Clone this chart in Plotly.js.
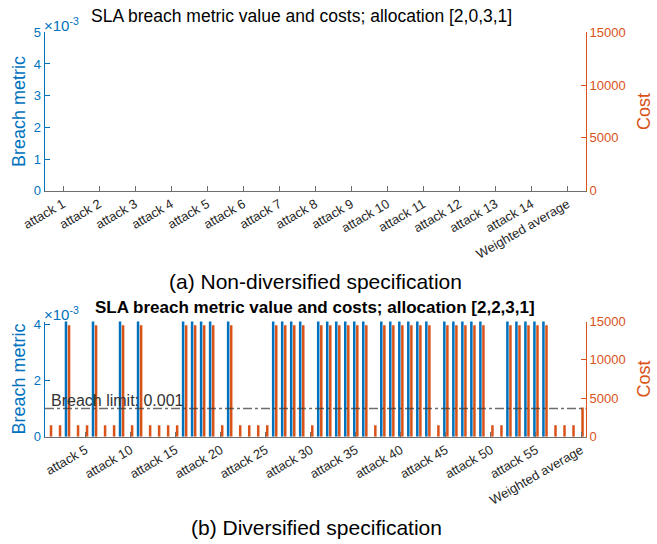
<!DOCTYPE html>
<html>
<head>
<meta charset="utf-8">
<script src="https://cdn.plot.ly/plotly-3.0.1.min.js"></script>
<style>html,body{margin:0;padding:0;background:#fff;}#plot{width:657px;height:544px;}</style>
</head>
<body>
<div id="plot"></div>
<script>
// ---- Top chart (a): allocation [2,0,3,1] ----
var catsA = ["attack 1","attack 2","attack 3","attack 4","attack 5","attack 6","attack 7",
             "attack 8","attack 9","attack 10","attack 11","attack 12","attack 13","attack 14",
             "Weighted average"];
var breachA = [0,0,0,0,0,0,0,0,0,0,0,0,0,0,0];
var costA   = [0,0,0,0,0,0,0,0,0,0,0,0,0,0,0];

// ---- Bottom chart (b): allocation [2,2,3,1] ----
var breachB = [0,0,0.005,0,0,0.005,0,0,0.005,0,
               0.005,0,0,0,0,0.005,0.005,0.005,0.005,0,
               0.005,0,0,0,0,0.005,0.005,0.005,0.005,0,
               0.005,0.005,0.005,0.005,0.005,0.005,0,0.005,0.005,0.005,
               0.005,0.005,0.005,0,0.005,0.005,0.005,0.005,0.005,0,
               0,0.005,0.005,0.005,0.005,0.005,0,0,0,0];
var costB = [1500,1500,14500,1500,1500,14500,1500,1500,14500,1500,
             14500,1500,1500,1500,1500,14500,14500,14500,14500,1500,
             14500,1500,1500,1500,1500,14500,14500,14500,14500,1500,
             14500,14500,14500,14500,14500,14500,1500,14500,14500,14500,
             14500,14500,14500,1500,14500,14500,14500,14500,14500,1500,
             1500,14500,14500,14500,14500,14500,1500,1500,1500,3800];
var tickPosB = [5,10,15,20,25,30,35,40,45,50,55,60];
var tickTextB = ["attack 5","attack 10","attack 15","attack 20","attack 25","attack 30",
                 "attack 35","attack 40","attack 45","attack 50","attack 55","Weighted average"];
var breachLimit = 0.001;

var posA = catsA.map(function(_, i){ return i + 1; });
var posB = costB.map(function(_, i){ return i + 1; });

var BLUE = "#0072BD", ORANGE = "#D95319", GREY = "#6e6e6e", TXT = "#262626";
var FONT = "Liberation Sans, Arial, Helvetica, sans-serif";

var traces = [
  {type:"bar", x:posA, y:breachA, xaxis:"x", yaxis:"y", marker:{color:BLUE}, width:0.28, offset:-0.31, hoverinfo:"skip"},
  {type:"bar", x:posA, y:costA, xaxis:"x", yaxis:"y2", marker:{color:ORANGE}, width:0.28, offset:0.03, hoverinfo:"skip"},
  {type:"bar", x:posB, y:breachB, xaxis:"x2", yaxis:"y3", marker:{color:BLUE}, width:0.28, offset:-0.31, hoverinfo:"skip"},
  {type:"bar", x:posB, y:costB, xaxis:"x2", yaxis:"y4", marker:{color:ORANGE}, width:0.28, offset:0.03, hoverinfo:"skip"}
];

var xdom = [45/657, 585.5/657];
var domA = [1 - 190.7/544, 1 - 32.3/544];
var domB = [1 - 436.7/544, 1 - 321.5/544];

function xax(extra){
  var a = {domain:xdom, showgrid:false, zeroline:false, showline:true, linecolor:GREY, linewidth:1,
           ticks:"inside", ticklen:5, tickcolor:GREY, tickangle:-30,
           tickfont:{family:FONT, size:13, color:TXT}, fixedrange:true};
  for (var k in extra) a[k] = extra[k];
  return a;
}
function yax(color, side, extra){
  var a = {showgrid:false, zeroline:false, showline:true, linecolor:color, linewidth:1.5,
           ticks:"inside", ticklen:5, tickcolor:color, side:side,
           tickfont:{family:FONT, size:13, color:color}, fixedrange:true};
  for (var k in extra) a[k] = extra[k];
  return a;
}

var layout = {
  width:657, height:544,
  margin:{l:0, r:0, t:0, b:0},
  paper_bgcolor:"#fff", plot_bgcolor:"#fff",
  showlegend:false,
  barmode:"overlay",
  font:{family:FONT, color:TXT},
  xaxis: xax({anchor:"y", range:[0.5,15.5], tickmode:"array", tickvals:posA, ticktext:catsA}),
  yaxis: yax(BLUE, "left", {domain:domA, anchor:"x", range:[0,0.005],
           tickmode:"array", tickvals:[0,0.001,0.002,0.003,0.004,0.005], ticktext:["0","1","2","3","4","5"],
           title:{text:"Breach metric", font:{family:FONT, size:18, color:BLUE}, standoff:3}}),
  yaxis2: yax(ORANGE, "right", {overlaying:"y", anchor:"x", range:[0,15000],
           tickmode:"array", tickvals:[0,5000,10000,15000], ticktext:["0","5000","10000","15000"],
           title:{text:"Cost", font:{family:FONT, size:18, color:ORANGE}, standoff:12}}),
  xaxis2: xax({anchor:"y3", range:[0.5,60.5], tickmode:"array", tickvals:tickPosB, ticktext:tickTextB}),
  yaxis3: yax(BLUE, "left", {domain:domB, anchor:"x2", range:[0,0.0041],
           tickmode:"array", tickvals:[0,0.002,0.004], ticktext:["0","2","4"],
           title:{text:"Breach metric", font:{family:FONT, size:18, color:BLUE}, standoff:3}}),
  yaxis4: yax(ORANGE, "right", {overlaying:"y3", anchor:"x2", range:[0,15000],
           tickmode:"array", tickvals:[0,5000,10000,15000], ticktext:["0","5000","10000","15000"],
           title:{text:"Cost", font:{family:FONT, size:18, color:ORANGE}, standoff:12}}),
  shapes:[
    {type:"line", xref:"x2 domain", yref:"y3", x0:0, x1:1, y0:breachLimit, y1:breachLimit,
     line:{color:"rgba(60,60,60,0.75)", width:1.5, dash:"dashdot"}}
  ],
  annotations:[
    {xref:"paper", yref:"paper", x:301/657, y:1-16/544, xanchor:"center", yanchor:"middle",
     text:"SLA breach metric value and costs; allocation [2,0,3,1]", showarrow:false,
     font:{family:FONT, size:17.5, color:"#000"}},
    {xref:"paper", yref:"paper", x:315/657, y:1-307/544, xanchor:"center", yanchor:"middle",
     text:"<b>SLA breach metric value and costs; allocation [2,2,3,1]</b>", showarrow:false,
     font:{family:FONT, size:17, color:"#000"}},
    {xref:"paper", yref:"paper", x:315/657, y:1-281/544, xanchor:"center", yanchor:"middle",
     text:"(a) Non-diversified specification", showarrow:false,
     font:{family:FONT, size:21, color:"#000"}},
    {xref:"paper", yref:"paper", x:316/657, y:1-527/544, xanchor:"center", yanchor:"middle",
     text:"(b) Diversified specification", showarrow:false,
     font:{family:FONT, size:21, color:"#000"}},
    {xref:"paper", yref:"paper", x:42/657, y:1-36/544, xanchor:"left", yanchor:"bottom",
     text:"×10<sup>-3</sup>", showarrow:false, font:{family:FONT, size:15, color:BLUE}},
    {xref:"paper", yref:"paper", x:42/657, y:1-325/544, xanchor:"left", yanchor:"bottom",
     text:"×10<sup>-3</sup>", showarrow:false, font:{family:FONT, size:15, color:BLUE}},
    {xref:"paper", yref:"y3", x:49/657, y:breachLimit, xanchor:"left", yanchor:"bottom",
     text:"Breach limit: 0.001", showarrow:false, yshift:-2,
     font:{family:FONT, size:16, color:"#333"}}
  ]
};

Plotly.newPlot("plot", traces, layout, {staticPlot:true, displayModeBar:false});
</script>
</body>
</html>
